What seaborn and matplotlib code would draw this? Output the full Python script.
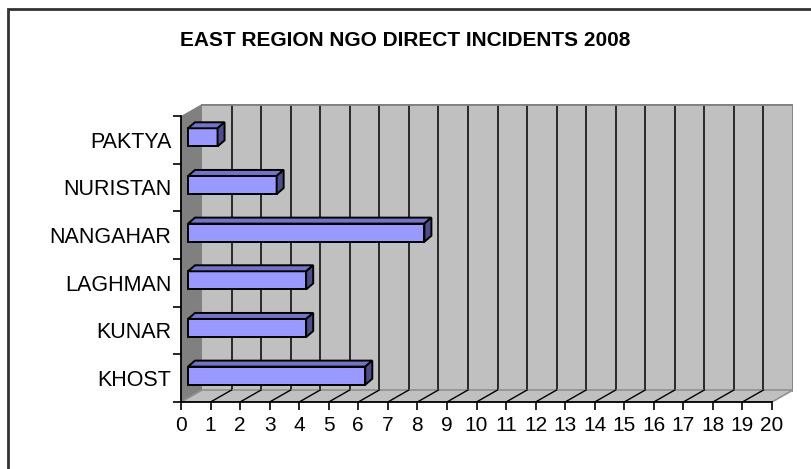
import numpy as np
import pandas as pd
import seaborn as sns
import matplotlib.pyplot as plt
from matplotlib.patches import Polygon, Rectangle
from matplotlib.lines import Line2D

# data
provinces = ['PAKTYA', 'NURISTAN', 'NANGAHAR', 'LAGHMAN', 'KUNAR', 'KHOST']
incidents = [1, 3, 8, 4, 4, 6]
x_ticks = list(range(0, 21))
title = 'EAST REGION NGO DIRECT INCIDENTS 2008'

df = pd.DataFrame({'Province': provinces, 'Incidents': incidents})

W, H = 811, 469
fig = plt.figure(figsize=(W / 100, H / 100), dpi=100)
plt.rcParams['font.family'] = ['Liberation Sans', 'DejaVu Sans']

# axes box in pixels: front-left corner of the floor to the top-right of back wall
left_px, right_px, top_px, bottom_px = 181, 793, 104, 402
ax = fig.add_axes([left_px / W, 1 - bottom_px / H,
                   (right_px - left_px) / W, (bottom_px - top_px) / H])

# pseudo 3d depth of the chart
x_max = x_ticks[-1]
px_per_x = 591 / x_max
px_per_y = 47.68
dxu = 21 / px_per_x        # wall depth, x units
dyu = 12 / px_per_y        # wall depth, y units

sns.barplot(data=df, x='Incidents', y='Province', orient='h', order=provinces,
            color='#9999FF', saturation=1, edgecolor='black', linewidth=1.4,
            width=0.38, ax=ax, zorder=3)

ax.set_xlim(0, x_max + dxu)
ax.set_ylim(5.5, -0.5 - dyu)
ax.set_facecolor('none')
n = len(provinces)

# back wall
ax.add_patch(Rectangle((dxu, -0.5 - dyu), x_max, n, facecolor='#C0C0C0',
                       edgecolor='none', zorder=0))
for i in x_ticks[1:-1]:
    ax.add_line(Line2D([i + dxu, i + dxu], [-0.5 - dyu, 5.5 - dyu],
                       color='black', lw=1.1, zorder=0.5))
ax.add_line(Line2D([x_max + dxu, x_max + dxu], [-0.5 - dyu, 5.5 - dyu],
                   color='#808080', lw=2, zorder=0.5))
ax.add_line(Line2D([dxu, x_max + dxu], [-0.5 - dyu, -0.5 - dyu],
                   color='#808080', lw=2, zorder=0.5))

# left side wall
ax.add_patch(Polygon([(0, 5.5), (0, -0.5), (dxu, -0.5 - dyu), (dxu, 5.5 - dyu)],
                     closed=True, facecolor='#808080', edgecolor='none', zorder=0.6))

# floor
ax.add_patch(Polygon([(0, 5.5), (x_max, 5.5), (x_max + dxu, 5.5 - dyu), (dxu, 5.5 - dyu)],
                     closed=True, facecolor='#C0C0C0', edgecolor='#909090', lw=1.2, zorder=0.7))
for i in x_ticks[1:-1]:
    ax.add_line(Line2D([i, i + dxu], [5.5, 5.5 - dyu], color='black', lw=1, zorder=0.8))

# shift bars into the middle of the depth and add top / side faces
bx, by = 7 / px_per_x, -2.5 / px_per_y
ddx, ddy = 7 / px_per_x, 6 / px_per_y
for p in ax.patches:
    if p.get_zorder() != 3:
        continue
    p.set_x(p.get_x() + bx)
    p.set_y(p.get_y() + by)
    x0, y0, w, h = p.get_x(), p.get_y(), p.get_width(), p.get_height()
    top = [(x0, y0), (x0 + w, y0), (x0 + w + ddx, y0 - ddy), (x0 + ddx, y0 - ddy)]
    side = [(x0 + w, y0), (x0 + w + ddx, y0 - ddy), (x0 + w + ddx, y0 + h - ddy), (x0 + w, y0 + h)]
    ax.add_patch(Polygon(top, closed=True, facecolor='#7373C8', edgecolor='black',
                         lw=1.4, zorder=3))
    ax.add_patch(Polygon(side, closed=True, facecolor='#4D4D8C', edgecolor='black',
                         lw=1.4, zorder=3))

# axes lines and ticks
for s in ['top', 'right']:
    ax.spines[s].set_visible(False)
ax.spines['left'].set_bounds(-0.5, 5.5)
ax.spines['bottom'].set_bounds(0, x_max)
ax.spines['left'].set_zorder(4)
ax.spines['bottom'].set_zorder(4)
ax.spines['left'].set_linewidth(1.3)
ax.spines['bottom'].set_linewidth(1.3)

ax.set_xticks(x_ticks)
ax.set_xticklabels([str(t) for t in x_ticks], fontsize=15)
ax.tick_params(axis='x', length=6, width=1.2, pad=4)
ax.set_yticks(range(n))
ax.set_yticklabels(provinces, fontsize=15.5)
ax.tick_params(axis='y', which='major', length=0, pad=7)
ax.set_yticks(np.arange(-0.5, n, 1.0), minor=True)
ax.tick_params(axis='y', which='minor', length=6, width=1.2)
ax.set_xlabel('')
ax.set_ylabel('')
ax.grid(False)

fig.text(405 / W, 1 - 41 / H, title, ha='center', va='center',
         fontsize=15, fontweight='bold')

# chart border (only top and left visible in the reference)
fig.patches.append(Rectangle((8 / W, -0.1), 1.2, 1 - 9 / H + 0.1, transform=fig.transFigure,
                             fill=False, edgecolor='#333333', lw=2, zorder=0))

fig.savefig('out.png', dpi=100)
